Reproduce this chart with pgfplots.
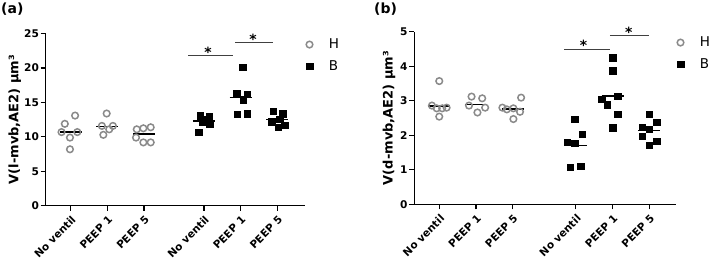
\documentclass[border=0pt]{standalone}
\usepackage{pgfplots}
\pgfplotsset{compat=1.18}
\usepackage{fontspec}
\setmainfont{DejaVu Sans}
\definecolor{hgray}{HTML}{8A8A8A}
\begin{document}
\begin{tikzpicture}
\pgfplotsset{
 myaxis/.style={
  scale only axis, axis lines=left,
  axis line style={-, line width=1.2bp, black},
  tick align=outside, major tick length=5bp,
  every tick/.style={black, line width=1.2bp},
  clip=false,
  ticklabel style={font=\fontsize{10.6bp}{12bp}\selectfont\bfseries},
  /pgf/number format/assume math mode=true,
  yticklabel style={inner sep=1.5bp},
  xticklabel style={xshift=3.2bp, yshift=-7.2bp, rotate=45, anchor=east, inner sep=0bp,
    font=\fontsize{10.5bp}{12bp}\selectfont\bfseries},
  xticklabels={No ventil, PEEP 1, PEEP 5, No ventil, PEEP 1, PEEP 5},
  ylabel style={font=\fontsize{13bp}{15bp}\selectfont\bfseries, anchor=center},
  legend image code/.code={\draw[##1] plot coordinates {(0bp,0bp)};},
  legend style={at={(rel axis cs:1,1)}, anchor=north west, xshift=1bp, yshift=-3bp,
    draw=none, fill=none, inner sep=0pt, font=\fontsize{13.5bp}{16bp}\selectfont,
    row sep=6bp, /tikz/every odd column/.append style={column sep=14bp}},
  legend cell align=left,
 },
 hpts/.style={only marks, mark=o, mark size=3.3bp, mark options={line width=1.5bp, draw=hgray}},
 bpts/.style={only marks, mark=square*, mark size=3.2bp, mark options={fill=black, draw=black, line width=0.3bp}},
 med/.style={black, line width=1.3bp, no marks, forget plot},
 sig/.style={black!75, line width=0.8bp, no marks, forget plot},
}
% ---------------- panel (a)
\begin{axis}[myaxis,
  at={(45.7bp,55.3bp)}, anchor=south west,
  width=259.3bp, height=172bp,
  xmin=-0.681, xmax=6.384, ymin=0, ymax=25,
  ytick={0,5,10,15,20,25},
  xtick={0,1,2,3.63,4.63,5.63},
  ylabel={V(l-mvb,AE2) µm³},
  ylabel style={at={(axis description cs:-0.1196,0.5)}},
]
\addplot[hpts] coordinates {
 (0.12,13.1) (-0.16,11.9) (-0.25,10.7) (0.18,10.7) (-0.02,9.9) (-0.02,8.2)
 (0.98,13.4) (0.85,11.6) (1.15,11.6) (1.05,11.1) (0.89,10.3)
 (1.80,11.1) (1.98,11.25) (2.18,11.4) (1.78,9.9) (1.98,9.2) (2.18,9.2)
};
\addlegendentry{H}
\addplot[bpts] coordinates {
 (3.52,13.1) (3.77,13.0) (3.65,12.5) (3.79,11.9) (3.49,10.7) (3.60,12.2)
 (4.68,20.1) (4.52,16.4) (4.81,16.2) (4.70,15.4) (4.54,13.3) (4.81,13.4)
 (5.51,13.7) (5.78,13.4) (5.47,12.2) (5.69,12.6) (5.65,11.4) (5.83,11.7)
};
\addlegendentry{B}
\addplot[med] coordinates {(-0.3,10.7) (0.3,10.7)};
\addplot[med] coordinates {(0.7,11.5) (1.3,11.5)};
\addplot[med] coordinates {(1.7,10.4) (2.3,10.4)};
\addplot[med] coordinates {(3.33,12.3) (3.93,12.3)};
\addplot[med] coordinates {(4.33,15.7) (4.93,15.7)};
\addplot[med] coordinates {(5.33,12.5) (5.93,12.5)};
\addplot[sig] coordinates {(3.2,21.9) (4.43,21.9)};
\addplot[sig] coordinates {(4.48,23.7) (5.52,23.7)};
\node[anchor=base, inner sep=0pt, yshift=-2bp, font=\fontsize{14bp}{16bp}\selectfont\bfseries] at (axis cs:3.74,21.9) {*};
\node[anchor=base, inner sep=0pt, yshift=-2bp, font=\fontsize{14bp}{16bp}\selectfont\bfseries] at (axis cs:4.97,23.7) {*};
\end{axis}
% ---------------- panel (b)
\begin{axis}[myaxis,
  at={(414.3bp,56.7bp)}, anchor=south west,
  width=261.7bp, height=172.6bp,
  xmin=-0.68, xmax=6.45, ymin=0, ymax=5,
  ytick={0,1,2,3,4,5},
  xtick={0,1,2,3.72,4.72,5.72},
  ylabel={V(d-mvb,AE2) µm³},
  ylabel style={at={(axis description cs:-0.0967,0.5)}},
]
\addplot[hpts] coordinates {
 (0,3.57) (-0.2,2.86) (-0.07,2.78) (0.08,2.78) (0.2,2.80) (0,2.54)
 (0.88,3.12) (1.17,3.07) (0.81,2.86) (1.25,2.80) (1.04,2.66)
 (2.23,3.09) (1.72,2.80) (1.84,2.75) (2.02,2.78) (2.20,2.68) (2.02,2.47)
};
\addlegendentry{H}
\addplot[bpts] coordinates {
 (3.69,2.47) (3.90,2.04) (3.48,1.80) (3.69,1.77) (3.56,1.07) (3.85,1.11)
 (4.72,4.25) (4.72,3.87) (4.42,3.04) (4.86,3.14) (4.57,2.89) (4.86,2.61) (4.72,2.22)
 (5.72,2.61) (5.92,2.38) (5.53,2.23) (5.72,2.17) (5.53,1.98) (5.92,1.83) (5.72,1.72)
};
\addlegendentry{B}
\addplot[med] coordinates {(-0.3,2.85) (0.3,2.85)};
\addplot[med] coordinates {(0.7,2.90) (1.3,2.90)};
\addplot[med] coordinates {(1.7,2.76) (2.3,2.76)};
\addplot[med] coordinates {(3.42,1.70) (4.02,1.70)};
\addplot[med] coordinates {(4.42,3.14) (5.02,3.14)};
\addplot[med] coordinates {(5.42,2.13) (6.02,2.13)};
\addplot[sig] coordinates {(3.41,4.50) (4.65,4.50)};
\addplot[sig] coordinates {(4.65,4.88) (5.71,4.88)};
\node[anchor=base, inner sep=0pt, yshift=-2bp, font=\fontsize{14bp}{16bp}\selectfont\bfseries] at (axis cs:3.93,4.50) {*};
\node[anchor=base, inner sep=0pt, yshift=-2bp, font=\fontsize{14bp}{16bp}\selectfont\bfseries] at (axis cs:5.16,4.88) {*};
\end{axis}
\node[anchor=north west, inner sep=0pt, font=\fontsize{14bp}{16bp}\selectfont\bfseries] at (1bp,258bp) {(a)};
\node[anchor=north west, inner sep=0pt, font=\fontsize{14bp}{16bp}\selectfont\bfseries] at (374bp,258bp) {(b)};
\pgfresetboundingbox
\path[use as bounding box] (0,0) rectangle (716bp,261bp);
\end{tikzpicture}
\end{document}
